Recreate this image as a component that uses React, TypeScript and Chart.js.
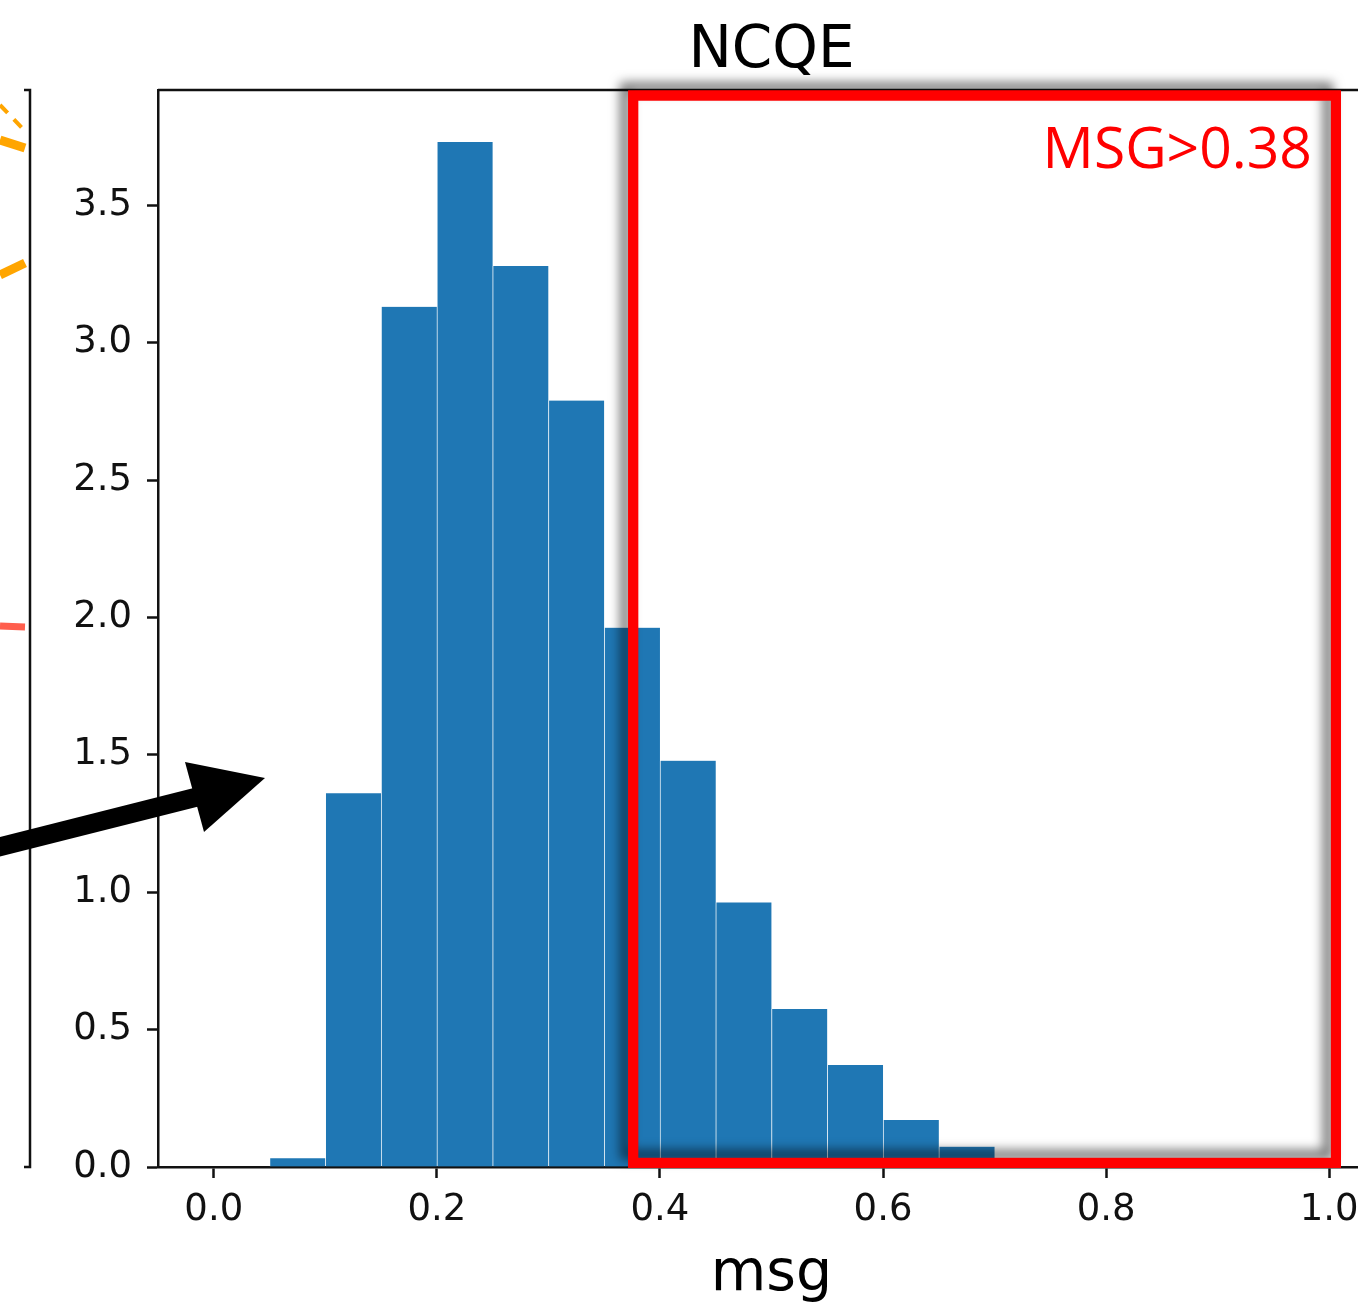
import React, { useEffect, useRef } from "react";
import { Chart, registerables } from "chart.js";

Chart.register(...registerables);

// ---- data ----
const binStarts = [0.05, 0.1, 0.15, 0.2, 0.25, 0.3, 0.35, 0.4, 0.45, 0.5, 0.55, 0.6, 0.65, 0.7];
const binWidth = 0.05;
const density = [0.032, 1.36, 3.131, 3.731, 3.279, 2.79, 1.963, 1.479, 0.963, 0.575, 0.371, 0.171, 0.074, 0.02];
const xTicks = [0.0, 0.2, 0.4, 0.6, 0.8, 1.0];
const yTicks = [0.0, 0.5, 1.0, 1.5, 2.0, 2.5, 3.0, 3.5];
const xRange = [-0.05, 1.05];
const yRange = [0, 3.92];
const titleText = "NCQE";
const xLabelText = "msg";
const noteText = "MSG>0.38";
const boxXRange = [0.376, 1.006];
const boxYRange = [0.015, 3.9];

const CANVAS_W = 1400;
const CANVAS_H = 1303;

const decoPlugin = {
  id: "deco",
  afterDraw(chart: any) {
    const { ctx, chartArea, scales } = chart;
    const xs = scales.x;
    const ys = scales.y;
    const { left, right, top, bottom } = chartArea;
    ctx.save();

    // top & right spines of main axes
    ctx.strokeStyle = "#111";
    ctx.lineWidth = 2.5;
    ctx.beginPath();
    ctx.moveTo(left, top);
    ctx.lineTo(right, top);
    ctx.lineTo(right, bottom);
    ctx.stroke();

    // remnant of neighbouring subplot (right spine)
    ctx.lineWidth = 2.5;
    ctx.beginPath();
    ctx.moveTo(24, top);
    ctx.lineTo(30, top);
    ctx.lineTo(30, bottom);
    ctx.lineTo(24, bottom);
    ctx.stroke();

    // orange lines of neighbouring subplot
    ctx.strokeStyle = "#ffa500";
    ctx.lineCap = "butt";
    ctx.lineWidth = 4;
    ctx.setLineDash([11, 9]);
    ctx.beginPath();
    ctx.moveTo(0, 105);
    ctx.lineTo(25, 131);
    ctx.stroke();
    ctx.setLineDash([]);
    ctx.lineWidth = 9;
    ctx.beginPath();
    ctx.moveTo(0, 140);
    ctx.lineTo(25, 148);
    ctx.stroke();
    ctx.beginPath();
    ctx.moveTo(0, 275);
    ctx.lineTo(25, 263);
    ctx.stroke();
    ctx.strokeStyle = "#ff5e4d";
    ctx.lineWidth = 7;
    ctx.beginPath();
    ctx.moveTo(0, 626);
    ctx.lineTo(25, 627);
    ctx.stroke();

    // black arrow
    ctx.strokeStyle = "#000";
    ctx.fillStyle = "#000";
    ctx.lineWidth = 19;
    ctx.beginPath();
    ctx.moveTo(-5, 848);
    ctx.lineTo(205, 795);
    ctx.stroke();
    ctx.beginPath();
    ctx.moveTo(185, 762);
    ctx.lineTo(265, 778);
    ctx.lineTo(204, 832);
    ctx.closePath();
    ctx.fill();

    // title and x label
    const cx = (left + right) / 2;
    ctx.fillStyle = "#000";
    ctx.textAlign = "center";
    ctx.textBaseline = "alphabetic";
    ctx.font = '58px "DejaVu Sans"';
    ctx.fillText(titleText, cx, 67);
    ctx.font = '57px "DejaVu Sans"';
    ctx.fillText(xLabelText, cx, 1290);

    // red threshold box with soft shadow
    const bx0 = xs.getPixelForValue(boxXRange[0]);
    const bx1 = xs.getPixelForValue(boxXRange[1]);
    const by0 = ys.getPixelForValue(boxYRange[1]);
    const by1 = ys.getPixelForValue(boxYRange[0]);
    ctx.save();
    ctx.shadowColor = "rgba(0,0,0,0.55)";
    ctx.shadowBlur = 11;
    ctx.shadowOffsetX = -8;
    ctx.shadowOffsetY = -8;
    ctx.strokeStyle = "#ff0000";
    ctx.lineWidth = 10;
    ctx.strokeRect(bx0, by0, bx1 - bx0, by1 - by0);
    ctx.restore();
    ctx.strokeStyle = "#ff0000";
    ctx.lineWidth = 10;
    ctx.strokeRect(bx0, by0, bx1 - bx0, by1 - by0);

    // annotation text
    ctx.fillStyle = "#ff0000";
    ctx.textAlign = "right";
    ctx.font = '57px "Open Sans"';
    ctx.fillText(noteText, bx1 - 24, by0 + 73);

    ctx.restore();
  },
};

export default function App() {
  const ref = useRef<HTMLCanvasElement>(null);

  useEffect(() => {
    const canvas = ref.current;
    if (!canvas) return;
    const points = binStarts.map((s, i) => ({ x: s + binWidth / 2, y: density[i] }));
    const tickFont = { family: "DejaVu Sans", size: 37 };
    const chart = new Chart(canvas, {
      type: "bar",
      data: {
        datasets: [
          {
            data: points,
            backgroundColor: "#1f77b4",
            borderColor: "rgba(255,255,255,0.22)",
            borderWidth: { left: 1, right: 0, top: 0, bottom: 0 },
            borderSkipped: false,
            barPercentage: 1,
            categoryPercentage: 1,
          } as any,
        ],
      },
      options: {
        responsive: false,
        devicePixelRatio: 1,
        animation: false,
        events: [],
        layout: { padding: { top: 90, left: 0, right: CANVAS_W - 1385, bottom: 0 } },
        plugins: { legend: { display: false }, tooltip: { enabled: false }, title: { display: false } },
        scales: {
          x: {
            type: "linear",
            min: xRange[0],
            max: xRange[1],
            offset: false,
            afterBuildTicks: (scale: any) => {
              scale.ticks = xTicks.map((v) => ({ value: v }));
            },
            afterFit: (scale: any) => {
              scale.height = CANVAS_H - 1167;
            },
            ticks: {
              font: tickFont,
              color: "#111",
              padding: 10,
              maxRotation: 0,
              autoSkip: false,
              callback: (v: any) => Number(v).toFixed(1),
            },
            grid: {
              display: true,
              offset: false,
              drawOnChartArea: false,
              drawTicks: true,
              tickLength: 11,
              tickColor: "#111",
              tickWidth: 2.5,
            },
            border: { display: true, color: "#111", width: 2.5 },
          },
          y: {
            type: "linear",
            min: yRange[0],
            max: yRange[1],
            afterBuildTicks: (scale: any) => {
              scale.ticks = yTicks.map((v) => ({ value: v }));
            },
            afterFit: (scale: any) => {
              scale.width = 158;
            },
            ticks: {
              font: tickFont,
              color: "#111",
              padding: 15,
              autoSkip: false,
              callback: (v: any) => Number(v).toFixed(1),
            },
            grid: {
              display: true,
              offset: false,
              drawOnChartArea: false,
              drawTicks: true,
              tickLength: 11,
              tickColor: "#111",
              tickWidth: 2.5,
            },
            border: { display: true, color: "#111", width: 2.5 },
          },
        },
      },
      plugins: [decoPlugin],
    });
    return () => chart.destroy();
  }, []);

  return (
    <div
      style={{
        position: "absolute",
        left: 0,
        top: 0,
        width: 1358,
        height: CANVAS_H,
        overflow: "hidden",
        background: "#fff",
      }}
    >
      <canvas
        ref={ref}
        width={CANVAS_W}
        height={CANVAS_H}
        style={{ display: "block", width: CANVAS_W, height: CANVAS_H }}
      />
    </div>
  );
}
